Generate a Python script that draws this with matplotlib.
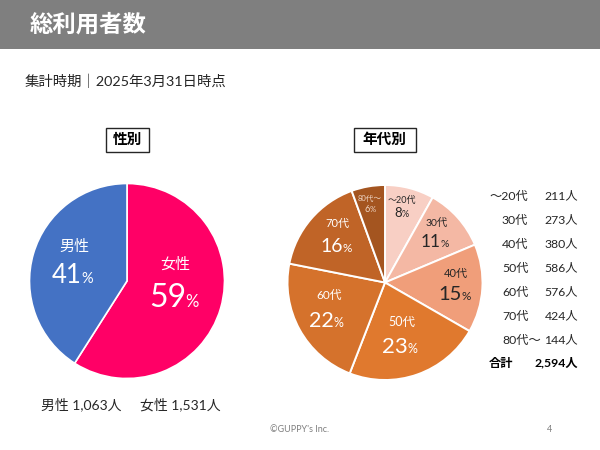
#!/usr/bin/env python3
import matplotlib
matplotlib.use('Agg')
import matplotlib.pyplot as plt
from matplotlib.patches import Rectangle

plt.rcParams['font.family'] = ['Lato', 'Noto Sans CJK JP', 'DejaVu Sans']

W, H = 600, 450

# Data
gender_labels = ['女性', '男性']
gender_counts = [1531, 1063]
gender_pct = ['59', '41']
gender_colors = ['#FF0066', '#4472C4']

age_labels = ['〜20代', '30代', '40代', '50代', '60代', '70代', '80代〜']
age_counts = [211, 273, 380, 586, 576, 424, 144]
age_pct = ['8', '11', '15', '23', '22', '16', '6']
age_colors = ['#F8CFC4', '#F4B8A4', '#F09E7A', '#E0792E', '#D5722C', '#C06427', '#A45520']
age_text_colors = ['#262626', '#262626', '#262626', 'white', 'white', 'white', '#F0D8C8']

total_label = '合計'
total_count = 2594


def add_pie(fig, cx, cy, r, values, colors, lw):
    ax = fig.add_axes([(cx - r) / W, 1 - (cy + r) / H, 2 * r / W, 2 * r / H])
    ax.pie(values, colors=colors, startangle=90, counterclock=False, radius=1,
           wedgeprops={'edgecolor': 'white', 'linewidth': lw})
    ax.set_xlim(-1, 1)
    ax.set_ylim(-1, 1)
    return ax


def pie_label(ax, x, y, split, base, name, pct, color, name_size, num_size, pct_size):
    # name on top, big number with a small % next to it
    ax.text(x, y, name, color=color, fontsize=name_size, ha='center', va='center')
    ax.text(split, base, pct, color=color, fontsize=num_size, ha='right', va='baseline')
    ax.text(split - 0.5, base, '%', color=color, fontsize=pct_size, ha='left', va='baseline')


fig = plt.figure(figsize=(W / 100, H / 100), dpi=100)

# background layer in pixel coords
bg = fig.add_axes([0, 0, 1, 1])
bg.set_xlim(0, W)
bg.set_ylim(H, 0)
bg.axis('off')

bg.add_patch(Rectangle((0, 0), W, 49, color='#7F7F7F', lw=0))
bg.text(30, 24, '総利用者数', color='white', fontsize=16.8, fontweight='bold', ha='left', va='center')
bg.text(25, 81, '集計時期｜2025年3月31日時点', color='#262626', fontsize=10.35, ha='left', va='center')

for x0, x1, txt in [(105.5, 149, '性別'), (353.5, 416, '年代別')]:
    bg.add_patch(Rectangle((x0, 127.5), x1 - x0, 24, fc='white', ec='#262626', lw=1))
    bg.text((x0 + x1) / 2, 139.5, txt, color='black', fontsize=10.5, fontweight='bold', ha='center', va='center')

add_pie(fig, 127, 281, 97.5, gender_counts, gender_colors, 1.2)
add_pie(fig, 385, 282.5, 97.5, age_counts, age_colors, 1.4)

# overlay for labels
top = fig.add_axes([0, 0, 1, 1])
top.set_xlim(0, W)
top.set_ylim(H, 0)
top.axis('off')

pie_label(top, 175, 265, 186, 307, gender_labels[0], gender_pct[0], 'white', 10.8, 23, 12)
pie_label(top, 74, 247, 82, 283, gender_labels[1], gender_pct[1], 'white', 10.8, 18.5, 10.5)

# name x, name y, number right edge, number baseline
age_pos = [(402, 200, 402, 217), (437, 223, 441, 247), (456, 274, 462, 300), (402, 322, 408, 353),
           (329, 295, 334, 327), (337, 224, 343, 252), (370, 198, 370, 212)]
# name, number and % font sizes
age_sizes = [(6.5, 9.5, 6.5), (7.5, 12.5, 7.5), (8, 14.5, 8.5), (9, 16, 9),
             (8.5, 15.5, 9), (8, 14, 8.5), (5.5, 6.5, 5.5)]
for i in range(len(age_labels)):
    x, y, split, base = age_pos[i]
    ns, bs, ps = age_sizes[i]
    pie_label(top, x, y, split, base, age_labels[i], age_pct[i], age_text_colors[i], ns, bs, ps)

# table on the right
row_y = [196, 220, 244, 268, 292, 316, 340]
for i, (yy, name, cnt) in enumerate(zip(row_y, age_labels, age_counts)):
    if i == 0:
        top.text(528, yy, name, color='#262626', fontsize=8.8, ha='right', va='center')
    else:
        top.text(502, yy, name, color='#262626', fontsize=8.8, ha='left', va='center')
    top.text(578, yy, f'{cnt}人', color='#262626', fontsize=8.8, ha='right', va='center')
top.text(489, 363, total_label, color='black', fontsize=8.8, fontweight='bold', ha='left', va='center')
top.text(578, 363, f'{total_count:,}人', color='black', fontsize=8.8, fontweight='bold', ha='right', va='center')

top.text(41, 404, f'{gender_labels[1]} {gender_counts[1]:,}人', color='#262626', fontsize=10, ha='left', va='center')
top.text(140, 404, f'{gender_labels[0]} {gender_counts[0]:,}人', color='#262626', fontsize=10, ha='left', va='center')

top.text(300, 429, "©GUPPY's Inc.", color='#7F7F7F', fontsize=6.5, ha='center', va='center')
top.text(550, 429, '4', color='#7F7F7F', fontsize=6.5, ha='center', va='center')

fig.savefig('out.png', dpi=100, facecolor='white')
